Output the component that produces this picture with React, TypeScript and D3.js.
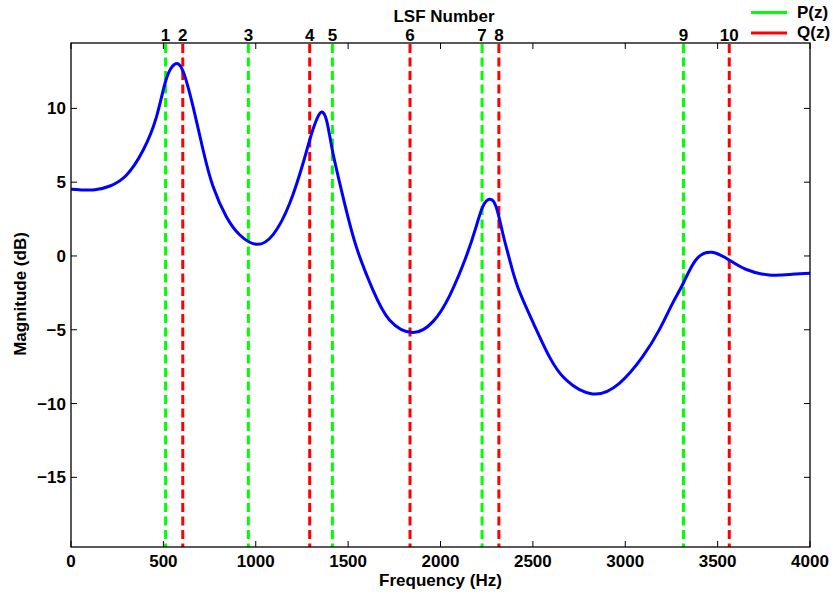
import React from "react";
import * as d3 from "d3";

const freqs = [0, 120, 211, 301, 391, 463, 514, 562, 607, 661, 715, 769, 841, 914, 1004, 1094, 1184, 1256, 1292, 1351, 1391, 1418, 1472, 1544, 1634, 1724, 1850, 1959, 2049, 2139, 2193, 2229, 2265, 2301, 2337, 2373, 2418, 2499, 2589, 2680, 2823, 2968, 3094, 3184, 3256, 3314, 3382, 3469, 3562, 3652, 3778, 3904, 4000];
const mags = [4.52, 4.47, 4.74, 5.49, 7.18, 9.44, 11.92, 13.0, 12.5, 10.1, 7.18, 4.7, 2.66, 1.42, 0.79, 1.45, 3.57, 6.28, 7.86, 9.71, 8.76, 6.96, 4.02, 0.63, -2.3, -4.34, -5.19, -4.45, -2.7, -0.04, 1.99, 3.34, 3.84, 3.34, 1.54, -0.2, -2.1, -4.45, -6.82, -8.4, -9.35, -8.63, -6.82, -5.01, -3.21, -1.85, -0.27, 0.25, -0.27, -0.9, -1.29, -1.24, -1.17];

const lsfFreqs = [512, 605, 960, 1292, 1415, 1835, 2225, 2316, 3315, 3563];
const lsfLabels = ["1", "2", "3", "4", "5", "6", "7", "8", "9", "10"];
const lsfPoly = ["P", "Q", "P", "Q", "P", "Q", "P", "Q", "P", "Q"];

const xTicks = [0, 500, 1000, 1500, 2000, 2500, 3000, 3500, 4000];
const yTicks = [-15, -10, -5, 0, 5, 10];

const legendNames = ["P(z)", "Q(z)"];
const legendColors = ["#00ff00", "#ff0000"];

export default function App() {
  const W = 833, H = 598;
  const left = 71, right = 810, top = 43, bottom = 547;
  const x = d3.scaleLinear().domain([0, 4000]).range([left, right]);
  const y = d3.scaleLinear().domain([-19.72, 14.43]).range([bottom, top]);
  const line = d3
    .line<number>()
    .x((_, i) => x(freqs[i]))
    .y((d) => y(d))
    .curve(d3.curveNatural);
  const font = "'Liberation Sans', Arial, Helvetica, sans-serif";
  const colorFor = (p: string) => (p === "P" ? legendColors[0] : legendColors[1]);
  const fmt = (v: number) => (v < 0 ? "\u2212" + Math.abs(v) : String(v));
  const tl = 6;

  return (
    <svg
      width={W}
      height={H}
      style={{ position: "absolute", left: 0, top: 0, background: "#fff" }}
      fontFamily={font}
      fontWeight="bold"
    >
      <rect x={0} y={0} width={W} height={H} fill="#fff" />
      {lsfFreqs.map((f, i) => (
        <line
          key={"l" + i}
          x1={x(f)}
          x2={x(f)}
          y1={top + 1}
          y2={bottom}
          stroke={colorFor(lsfPoly[i])}
          strokeWidth={3}
          strokeDasharray="9,4.5"
        />
      ))}
      <path d={line(mags) || ""} fill="none" stroke="#0000ff" strokeWidth={3} />
      <rect x={left} y={top} width={right - left} height={bottom - top} fill="none" stroke="#000" strokeWidth={1.3} />
      {xTicks.map((t) => (
        <g key={"x" + t}>
          <line x1={x(t)} x2={x(t)} y1={bottom} y2={bottom - tl} stroke="#000" strokeWidth={1} />
          <line x1={x(t)} x2={x(t)} y1={top} y2={top + tl} stroke="#000" strokeWidth={1} />
          <text x={x(t)} y={567} textAnchor="middle" fontSize={17}>
            {t}
          </text>
        </g>
      ))}
      {yTicks.map((t) => (
        <g key={"y" + t}>
          <line x1={left} x2={left + tl} y1={y(t)} y2={y(t)} stroke="#000" strokeWidth={1} />
          <line x1={right} x2={right - tl} y1={y(t)} y2={y(t)} stroke="#000" strokeWidth={1} />
          <text x={66} y={y(t) + 6} textAnchor="end" fontSize={17}>
            {fmt(t)}
          </text>
        </g>
      ))}
      {lsfFreqs.map((f, i) => (
        <text key={"t" + i} x={x(f)} y={41} textAnchor="middle" fontSize={17}>
          {lsfLabels[i]}
        </text>
      ))}
      <text x={444} y={22} textAnchor="middle" fontSize={17}>
        LSF Number
      </text>
      <text x={(left + right) / 2} y={586} textAnchor="middle" fontSize={17}>
        Frequency (Hz)
      </text>
      <text transform={`translate(26,294) rotate(-90)`} textAnchor="middle" fontSize={17}>
        Magnitude (dB)
      </text>
      {legendNames.map((n, i) => (
        <g key={"lg" + i}>
          <line x1={751} x2={787} y1={12.5 + i * 20.5} y2={12.5 + i * 20.5} stroke={legendColors[i]} strokeWidth={3} />
          <text x={797} y={18 + i * 20} fontSize={17}>
            {n}
          </text>
        </g>
      ))}
    </svg>
  );
}
